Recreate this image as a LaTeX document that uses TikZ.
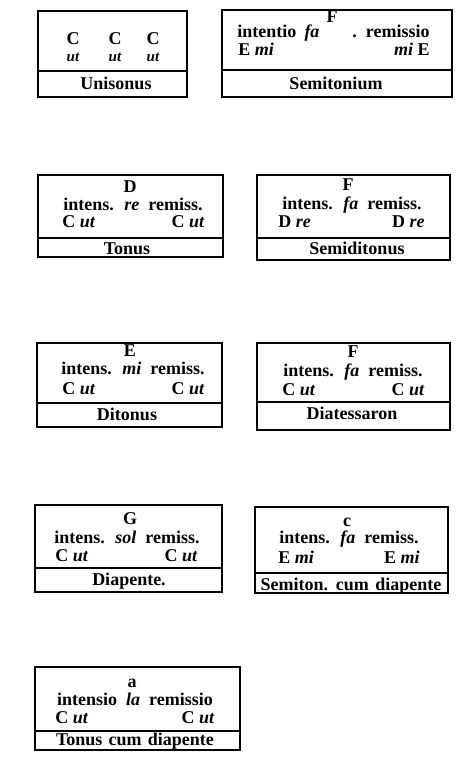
\documentclass[tikz,border=0pt]{standalone}
\usepackage{fontspec}
\setmainfont{Liberation Serif}
\usetikzlibrary{positioning}

\begin{document}
\begin{tikzpicture}[x=1pt, y=-1pt, thick]

    % Define styles
    \tikzstyle{frame} = [line width=1.7pt, black]
    \tikzstyle{txt} = [inner sep=0pt, font=\fontsize{18}{20}\selectfont\bfseries, text height=1.45ex, text depth=0.1ex]
    \tikzstyle{syl} = [txt, font=\fontsize{15}{17}\selectfont\bfseries\itshape]
    \tikzstyle{row} = [txt, execute at begin node={\spaceskip=0.5em\relax}]
    \tikzstyle{boxtitle} = [txt, execute at begin node={\spaceskip=0.35em\relax}]

    \useasboundingbox (0,0) rectangle (472,777);

    % Unisonus
    \draw[frame] (38,11) rectangle (187,97);
    \draw[frame] (38,71) -- (187,71);
    \node[txt] (uniC1) at (73,41) {C};
    \node[txt] (uniC2) at (115,41) {C};
    \node[txt] (uniC3) at (153,41) {C};
    \node[syl] (uniUt1) at (73,58) {ut};
    \node[syl] (uniUt2) at (115,58) {ut};
    \node[syl] (uniUt3) at (153,58) {ut};
    \node[boxtitle] (unisonus) at (116,86) {Unisonus};

    % Semitonium
    \draw[frame] (222,10) rectangle (452,97);
    \draw[frame] (222,70) -- (452,70);
    \node[txt] (semF) at (332,19) {F};
    \node[txt, anchor=west] (semInt) at (237,34) {intentio};
    \node[txt] (semFa) at (312,34) {\textit{fa}};
    \node[txt, anchor=east] (semRem) at (430,34) {.\ \ remissio};
    \node[txt, anchor=west] (semLeft) at (238,52) {E \textit{mi}};
    \node[txt, anchor=east] (semRight) at (430,52) {\textit{mi} E};
    \node[boxtitle] (semitonium) at (336,86) {Semitonium};

    % Tonus
    \draw[frame] (38,175) rectangle (223,257);
    \draw[frame] (38,238) -- (223,238);
    \node[txt] (tonD) at (130,189) {D};
    \node[row] (tonRow) at (133,207) {intens. \textit{re} remiss.};
    \node[txt, anchor=west] (tonLeft) at (62,224) {C \textit{ut}};
    \node[txt, anchor=east] (tonRight) at (205,224) {C \textit{ut}};
    \node[boxtitle] (tonus) at (127,251) {Tonus};

    % Semiditonus
    \draw[frame] (257,175) rectangle (450,260);
    \draw[frame] (257,238) -- (450,238);
    \node[txt] (sdiF) at (348,187) {F};
    \node[row] (sdiRow) at (352,206) {intens. \textit{fa} remiss.};
    \node[txt, anchor=west] (sdiLeft) at (278,224) {D \textit{re}};
    \node[txt, anchor=east] (sdiRight) at (425,224) {D \textit{re}};
    \node[boxtitle] (semiditonus) at (357,251) {Semiditonus};

    % Ditonus
    \draw[frame] (37,343) rectangle (222,427);
    \draw[frame] (37,403) -- (222,403);
    \node[txt] (ditE) at (130,353) {E};
    \node[row] (ditRow) at (133,371) {intens. \textit{mi} remiss.};
    \node[txt, anchor=west] (ditLeft) at (62,391) {C \textit{ut}};
    \node[txt, anchor=east] (ditRight) at (205,391) {C \textit{ut}};
    \node[boxtitle] (ditonus) at (127,417) {Ditonus};

    % Diatessaron
    \draw[frame] (257,343) rectangle (450,430);
    \draw[frame] (257,402) -- (450,402);
    \node[txt] (diaF) at (353,354) {F};
    \node[row] (diaRow) at (353,373) {intens. \textit{fa} remiss.};
    \node[txt, anchor=west] (diaLeft) at (282,392) {C \textit{ut}};
    \node[txt, anchor=east] (diaRight) at (425,392) {C \textit{ut}};
    \node[boxtitle] (diatessaron) at (352,416) {Diatessaron};

    % Diapente
    \draw[frame] (35,505) rectangle (222,592);
    \draw[frame] (35,568) -- (222,568);
    \node[txt] (dpeG) at (130,521) {G};
    \node[row] (dpeRow) at (127,540) {intens. \textit{sol} remiss.};
    \node[txt, anchor=west] (dpeLeft) at (55,558) {C \textit{ut}};
    \node[txt, anchor=east] (dpeRight) at (198,558) {C \textit{ut}};
    \node[boxtitle] (diapente) at (129,582) {Diapente.};

    % Semitonium cum diapente
    \draw[frame] (255,507) rectangle (448,593);
    \draw[frame] (255,573) -- (448,573);
    \node[txt] (scdC) at (347,523) {c};
    \node[row] (scdRow) at (349,540) {intens. \textit{fa} remiss.};
    \node[txt, anchor=west] (scdLeft) at (278,560) {E \textit{mi}};
    \node[txt, anchor=east] (scdRight) at (420,560) {E \textit{mi}};
    \node[boxtitle] (semicumdiap) at (351,587) {Semiton. cum diapente};

    % Tonus cum diapente
    \draw[frame] (35,667) rectangle (240,750);
    \draw[frame] (35,731) -- (240,731);
    \node[txt] (tcdA) at (132,684) {a};
    \node[row] (tcdRow) at (135,702) {intensio \textit{la} remissio};
    \node[txt, anchor=west] (tcdLeft) at (55,720) {C \textit{ut}};
    \node[txt, anchor=east] (tcdRight) at (215,720) {C \textit{ut}};
    \node[boxtitle] (toncumdiap) at (135,742) {Tonus cum diapente};

\end{tikzpicture}
\end{document}
